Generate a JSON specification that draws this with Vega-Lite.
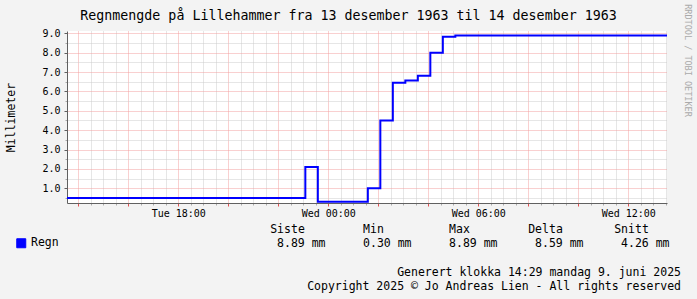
{
  "$schema": "https://vega.github.io/schema/vega-lite/v6.json",
  "width": 600,
  "height": 172,
  "autosize": "none",
  "padding": {"left": 67, "top": 31, "right": 30, "bottom": 96},
  "background": "#f3f3f3",
  "config": {
    "view": {"fill": "#ffffff", "stroke": null},
    "font": "DejaVu Sans Mono"
  },
  "layer": [
    {
      "data": {
        "values": [
          {"tid": "1963-12-13T13:33:00Z", "mm": 0.5, "serie": "Regn"},
          {"tid": "1963-12-13T23:05:00Z", "mm": 2.1, "serie": "Regn"},
          {"tid": "1963-12-13T23:35:00Z", "mm": 0.3, "serie": "Regn"},
          {"tid": "1963-12-14T01:35:00Z", "mm": 1.0, "serie": "Regn"},
          {"tid": "1963-12-14T02:05:00Z", "mm": 4.5, "serie": "Regn"},
          {"tid": "1963-12-14T02:35:00Z", "mm": 6.45, "serie": "Regn"},
          {"tid": "1963-12-14T03:05:00Z", "mm": 6.57, "serie": "Regn"},
          {"tid": "1963-12-14T03:35:00Z", "mm": 6.81, "serie": "Regn"},
          {"tid": "1963-12-14T04:05:00Z", "mm": 8.0, "serie": "Regn"},
          {"tid": "1963-12-14T04:35:00Z", "mm": 8.82, "serie": "Regn"},
          {"tid": "1963-12-14T05:05:00Z", "mm": 8.89, "serie": "Regn"},
          {"tid": "1963-12-14T13:33:00Z", "mm": 8.89, "serie": "Regn"}
        ]
      },
      "layer": [
        {
          "mark": {"type": "line", "interpolate": "step-after", "strokeWidth": 2},
          "encoding": {
            "x": {
              "field": "tid",
              "type": "temporal",
              "scale": {
                "type": "utc",
                "domain": [
                  {"year": 1963, "month": 12, "date": 13, "hours": 13, "minutes": 33, "utc": true},
                  {"year": 1963, "month": 12, "date": 14, "hours": 13, "minutes": 33, "utc": true}
                ]
              },
              "axis": {
                "orient": "bottom",
                "values": [
                  {"year": 1963, "month": 12, "date": 13, "hours": 14, "minutes": 30, "utc": true},
                  {"year": 1963, "month": 12, "date": 13, "hours": 15, "minutes": 0, "utc": true},
                  {"year": 1963, "month": 12, "date": 13, "hours": 15, "minutes": 30, "utc": true},
                  {"year": 1963, "month": 12, "date": 13, "hours": 16, "minutes": 30, "utc": true},
                  {"year": 1963, "month": 12, "date": 13, "hours": 17, "minutes": 0, "utc": true},
                  {"year": 1963, "month": 12, "date": 13, "hours": 17, "minutes": 30, "utc": true},
                  {"year": 1963, "month": 12, "date": 13, "hours": 18, "minutes": 30, "utc": true},
                  {"year": 1963, "month": 12, "date": 13, "hours": 19, "minutes": 0, "utc": true},
                  {"year": 1963, "month": 12, "date": 13, "hours": 19, "minutes": 30, "utc": true},
                  {"year": 1963, "month": 12, "date": 13, "hours": 20, "minutes": 30, "utc": true},
                  {"year": 1963, "month": 12, "date": 13, "hours": 21, "minutes": 0, "utc": true},
                  {"year": 1963, "month": 12, "date": 13, "hours": 21, "minutes": 30, "utc": true},
                  {"year": 1963, "month": 12, "date": 13, "hours": 22, "minutes": 30, "utc": true},
                  {"year": 1963, "month": 12, "date": 13, "hours": 23, "minutes": 0, "utc": true},
                  {"year": 1963, "month": 12, "date": 13, "hours": 23, "minutes": 30, "utc": true},
                  {"year": 1963, "month": 12, "date": 14, "hours": 0, "minutes": 30, "utc": true},
                  {"year": 1963, "month": 12, "date": 14, "hours": 1, "minutes": 0, "utc": true},
                  {"year": 1963, "month": 12, "date": 14, "hours": 1, "minutes": 30, "utc": true},
                  {"year": 1963, "month": 12, "date": 14, "hours": 2, "minutes": 30, "utc": true},
                  {"year": 1963, "month": 12, "date": 14, "hours": 3, "minutes": 0, "utc": true},
                  {"year": 1963, "month": 12, "date": 14, "hours": 3, "minutes": 30, "utc": true},
                  {"year": 1963, "month": 12, "date": 14, "hours": 4, "minutes": 30, "utc": true},
                  {"year": 1963, "month": 12, "date": 14, "hours": 5, "minutes": 0, "utc": true},
                  {"year": 1963, "month": 12, "date": 14, "hours": 5, "minutes": 30, "utc": true},
                  {"year": 1963, "month": 12, "date": 14, "hours": 6, "minutes": 30, "utc": true},
                  {"year": 1963, "month": 12, "date": 14, "hours": 7, "minutes": 0, "utc": true},
                  {"year": 1963, "month": 12, "date": 14, "hours": 7, "minutes": 30, "utc": true},
                  {"year": 1963, "month": 12, "date": 14, "hours": 8, "minutes": 30, "utc": true},
                  {"year": 1963, "month": 12, "date": 14, "hours": 9, "minutes": 0, "utc": true},
                  {"year": 1963, "month": 12, "date": 14, "hours": 9, "minutes": 30, "utc": true},
                  {"year": 1963, "month": 12, "date": 14, "hours": 10, "minutes": 30, "utc": true},
                  {"year": 1963, "month": 12, "date": 14, "hours": 11, "minutes": 0, "utc": true},
                  {"year": 1963, "month": 12, "date": 14, "hours": 11, "minutes": 30, "utc": true},
                  {"year": 1963, "month": 12, "date": 14, "hours": 12, "minutes": 30, "utc": true},
                  {"year": 1963, "month": 12, "date": 14, "hours": 13, "minutes": 0, "utc": true},
                  {"year": 1963, "month": 12, "date": 14, "hours": 13, "minutes": 30, "utc": true}
                ],
                "grid": true,
                "gridColor": "#cccccc",
                "gridDash": [1, 1],
                "gridWidth": 1,
                "ticks": true,
                "tickColor": "#aaaaaa",
                "tickSize": 2,
                "labels": false,
                "domain": false,
                "title": null,
                "zindex": 0
              }
            },
            "y": {
              "field": "mm",
              "type": "quantitative",
              "scale": {"domain": [0.24, 9.12], "nice": false, "zero": false},
              "axis": {
                "orient": "left",
                "values": [0.5, 1.5, 2.5, 3.5, 4.5, 5.5, 6.5, 7.5, 8.5],
                "grid": true,
                "gridColor": "#cccccc",
                "gridDash": [1, 1],
                "gridWidth": 1,
                "ticks": true,
                "tickColor": "#aaaaaa",
                "tickSize": 2,
                "labels": false,
                "domain": false,
                "title": null,
                "zindex": 0
              }
            },
            "color": {
              "field": "serie",
              "type": "nominal",
              "scale": {"range": ["#0000ff"]},
              "legend": {
                "orient": "none",
                "legendX": -51.5,
                "legendY": 206.5,
                "title": null,
                "padding": 0,
                "symbolType": "square",
                "symbolSize": 81,
                "symbolFillColor": "#0000ff",
                "symbolStrokeColor": "#000000",
                "symbolStrokeWidth": 1,
                "symbolOpacity": 1,
                "labelFont": "DejaVu Sans Mono",
                "labelFontSize": 11.5,
                "labelColor": "#000000",
                "labelOffset": 4
              }
            }
          }
        },
        {
          "mark": {"type": "line", "interpolate": "step-after", "strokeOpacity": 0},
          "encoding": {
            "x": {
              "field": "tid",
              "type": "temporal",
              "scale": {
                "type": "utc",
                "domain": [
                  {"year": 1963, "month": 12, "date": 13, "hours": 13, "minutes": 33, "utc": true},
                  {"year": 1963, "month": 12, "date": 14, "hours": 13, "minutes": 33, "utc": true}
                ]
              },
              "axis": {
                "orient": "bottom",
                "values": [
                  {"year": 1963, "month": 12, "date": 13, "hours": 14, "utc": true},
                  {"year": 1963, "month": 12, "date": 13, "hours": 16, "utc": true},
                  {"year": 1963, "month": 12, "date": 13, "hours": 18, "utc": true},
                  {"year": 1963, "month": 12, "date": 13, "hours": 20, "utc": true},
                  {"year": 1963, "month": 12, "date": 13, "hours": 22, "utc": true},
                  {"year": 1963, "month": 12, "date": 14, "hours": 0, "utc": true},
                  {"year": 1963, "month": 12, "date": 14, "hours": 2, "utc": true},
                  {"year": 1963, "month": 12, "date": 14, "hours": 4, "utc": true},
                  {"year": 1963, "month": 12, "date": 14, "hours": 6, "utc": true},
                  {"year": 1963, "month": 12, "date": 14, "hours": 8, "utc": true},
                  {"year": 1963, "month": 12, "date": 14, "hours": 10, "utc": true},
                  {"year": 1963, "month": 12, "date": 14, "hours": 12, "utc": true}
                ],
                "grid": true,
                "gridColor": "#f2a0a0",
                "gridDash": [1, 1],
                "gridWidth": 1,
                "ticks": true,
                "tickColor": "#e05050",
                "tickSize": 3,
                "labelExpr": "utchours(datum.value) % 6 == 0 ? (utcdate(datum.value) == 13 ? 'Tue' : 'Wed') + ' ' + utcFormat(datum.value, '%H:%M') : ''",
                "labelFont": "DejaVu Sans Mono",
                "labelFontSize": 10,
                "labelColor": "#000000",
                "labelPadding": 10,
                "labelBaseline": "alphabetic",
                "labelFlush": false,
                "labelOverlap": false,
                "labelAngle": 0,
                "domain": true,
                "domainColor": "#606060",
                "title": ["Generert klokka 14:29 mandag 9. juni 2025", "Copyright 2025 © Jo Andreas Lien - All rights reserved"],
                "titleFont": "DejaVu Sans Mono",
                "titleFontSize": 11.5,
                "titleFontWeight": "normal",
                "titleColor": "#000000",
                "titleX": 613.5,
                "titleY": 72,
                "titleAlign": "right",
                "titleBaseline": "alphabetic",
                "titleLineHeight": 14.3,
                "zindex": 0
              }
            },
            "y": {
              "field": "mm",
              "type": "quantitative",
              "scale": {"domain": [0.24, 9.12], "nice": false, "zero": false},
              "axis": {
                "orient": "left",
                "values": [1, 2, 3, 4, 5, 6, 7, 8, 9],
                "grid": true,
                "gridColor": "#f2a0a0",
                "gridDash": [1, 1],
                "gridWidth": 1,
                "ticks": true,
                "tickColor": "#606060",
                "tickSize": 3,
                "format": ".1f",
                "labelFont": "DejaVu Sans Mono",
                "labelFontSize": 10,
                "labelColor": "#000000",
                "labelPadding": 4,
                "labelFlush": false,
                "labelOverlap": false,
                "domain": true,
                "domainColor": "#606060",
                "title": "Millimeter",
                "titleFont": "DejaVu Sans Mono",
                "titleFontSize": 11.5,
                "titleFontWeight": "normal",
                "titleColor": "#000000",
                "titleX": -56,
                "titleY": 86,
                "titleAngle": 270,
                "titleAlign": "center",
                "titleBaseline": "middle",
                "zindex": 0
              }
            }
          }
        }
      ],
      "resolve": {"axis": {"x": "independent", "y": "independent"}}
    },
    {
      "data": {
        "values": [
          {"kol": "Siste", "overskrift": "Siste", "verdi": "8.89 mm"},
          {"kol": "Min", "overskrift": "Min", "verdi": "0.30 mm"},
          {"kol": "Max", "overskrift": "Max", "verdi": "8.89 mm"},
          {"kol": "Delta", "overskrift": "Delta", "verdi": "8.59 mm"},
          {"kol": "Snitt", "overskrift": "Snitt", "verdi": "4.26 mm"}
        ]
      },
      "encoding": {
        "x": {
          "field": "kol",
          "type": "nominal",
          "scale": {"type": "point", "domain": ["Siste", "Min", "Max", "Delta", "Snitt"], "range": [258.5, 602.5], "padding": 0},
          "axis": {
            "orient": "top",
            "title": "Regnmengde på Lillehammer fra 13 desember 1963 til 14 desember 1963",
            "titleFont": "DejaVu Sans Mono",
            "titleFontSize": 13.3,
            "titleFontWeight": "normal",
            "titleColor": "#000000",
            "titleX": 281,
            "titleY": -11.7,
            "titleAlign": "center",
            "titleBaseline": "alphabetic",
            "labels": false,
            "ticks": false,
            "domain": false,
            "grid": false
          }
        }
      },
      "layer": [
        {
          "mark": {"type": "text", "align": "center", "dx": -38, "baseline": "alphabetic", "font": "DejaVu Sans Mono", "fontSize": 11.5, "color": "#000000"},
          "encoding": {
            "text": {"field": "overskrift"},
            "y": {
              "datum": "overskrift",
              "type": "nominal",
              "scale": {"type": "point", "domain": ["overskrift", "verdi"], "range": [202.3, 216.3], "padding": 0},
              "axis": {
                "orient": "right",
                "title": "RRDTOOL / TOBI OETIKER",
                "titleAngle": 90,
                "titleFont": "DejaVu Sans Mono",
                "titleFontSize": 8.5,
                "titleFontWeight": "normal",
                "titleColor": "#aaaaaa",
                "titleX": 20.7,
                "titleY": 29,
                "titleAlign": "center",
                "titleBaseline": "middle",
                "labels": false,
                "ticks": false,
                "domain": false,
                "grid": false
              }
            }
          }
        },
        {
          "mark": {"type": "text", "align": "right", "baseline": "alphabetic", "font": "DejaVu Sans Mono", "fontSize": 11.5, "color": "#000000"},
          "encoding": {
            "text": {"field": "verdi"},
            "y": {
              "datum": "verdi",
              "type": "nominal",
              "scale": {"type": "point", "domain": ["overskrift", "verdi"], "range": [202.3, 216.3], "padding": 0},
              "axis": {
                "orient": "right",
                "title": "RRDTOOL / TOBI OETIKER",
                "titleAngle": 90,
                "titleFont": "DejaVu Sans Mono",
                "titleFontSize": 8.5,
                "titleFontWeight": "normal",
                "titleColor": "#aaaaaa",
                "titleX": 20.7,
                "titleY": 29,
                "titleAlign": "center",
                "titleBaseline": "middle",
                "labels": false,
                "ticks": false,
                "domain": false,
                "grid": false
              }
            }
          }
        }
      ]
    }
  ],
  "resolve": {"scale": {"x": "independent", "y": "independent"}}
}
